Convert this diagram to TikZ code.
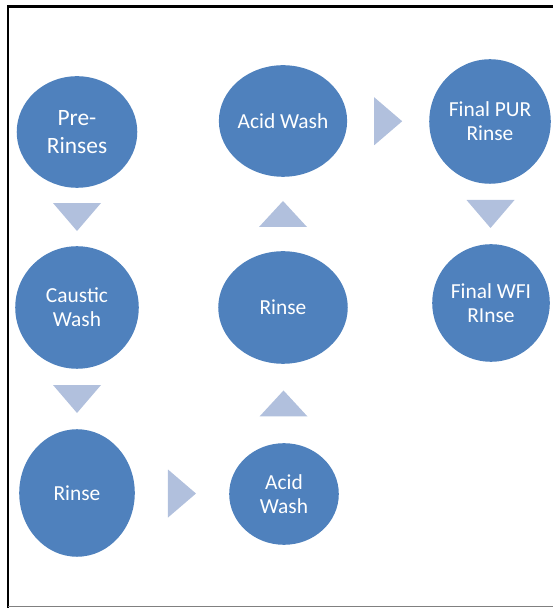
\documentclass[tikz,border=0pt]{standalone}
\usepackage{fontspec}
\setmainfont{Carlito}
\usetikzlibrary{shapes.geometric}

\definecolor{stepblue}{HTML}{4F81BD}
\definecolor{arrowblue}{HTML}{B1C0DD}

\begin{document}
\begin{tikzpicture}[x=1bp, y=1bp,
        stage/.style={ellipse, fill=stepblue, text=white, inner sep=0pt, align=center,
            font=\fontsize{21.5}{24}\selectfont},
        tri/.style={fill=arrowblue}]
        \useasboundingbox (0, 0) rectangle (553, 608);
        \draw [line width=2.5bp] (8, 0) -- (8, 601.5) -- (553, 601.5);
        \draw [gray, line width=1.5bp] (8, 1.5) -- (553, 1.5);

        \node [stage, minimum width=121, minimum height=112, font=\fontsize{23.5}{27.5}\selectfont] (pre) at (77, 476) {Pre-\\Rinses};
        \node [stage, minimum width=124, minimum height=123] (caustic) at (77, 300.5) {Caustic\\Wash};
        \node [stage, minimum width=116, minimum height=128] (rinse1) at (77, 115) {Rinse};
        \node [stage, minimum width=110, minimum height=102] (acid1) at (284, 114) {Acid\\Wash};
        \node [stage, minimum width=130, minimum height=113] (rinse2) at (283, 300.5) {Rinse};
        \node [stage, minimum width=124, minimum height=112] (acid2) at (283, 487) {Acid Wash};
        \node [stage, minimum width=122, minimum height=125] (pur) at (490, 486.5) {Final PUR\\Rinse};
        \node [stage, minimum width=118, minimum height=118] (wfi) at (491, 305) {Final WFI\\RInse};

        % arrow heads midway between the stages
        \path (pre) -- (caustic) coordinate [midway] (m1);
        \path (caustic) -- (rinse1) coordinate [midway] (m2);
        \path (rinse1) -- (acid1) coordinate [midway] (m3);
        \path (acid1) -- (rinse2) coordinate [midway] (m4);
        \path (rinse2) -- (acid2) coordinate [midway] (m5);
        \path (acid2) -- (pur) coordinate [midway] (m6);
        \path (pur) -- (wfi) coordinate [midway] (m7);

        \fill [tri] ([shift={(-24, 14)}]m1) -- ([shift={(24, 14)}]m1) -- ([shift={(0, -14)}]m1) -- cycle;
        \fill [tri] ([shift={(-24, 14)}]m2) -- ([shift={(24, 14)}]m2) -- ([shift={(0, -14)}]m2) -- cycle;
        \fill [tri] ([shift={(-14, 24)}]m3) -- ([shift={(-14, -24)}]m3) -- ([shift={(14, 0)}]m3) -- cycle;
        \fill [tri] ([shift={(-24, -13)}]m4) -- ([shift={(24, -13)}]m4) -- ([shift={(0, 13)}]m4) -- cycle;
        \fill [tri] ([shift={(-24, -13)}]m5) -- ([shift={(24, -13)}]m5) -- ([shift={(0, 13)}]m5) -- cycle;
        \fill [tri] ([shift={(-14, 24)}]m6) -- ([shift={(-14, -24)}]m6) -- ([shift={(14, 0)}]m6) -- cycle;
        \fill [tri] ([shift={(-24, 14)}]m7) -- ([shift={(24, 14)}]m7) -- ([shift={(0, -14)}]m7) -- cycle;
    \end{tikzpicture}
\end{document}
